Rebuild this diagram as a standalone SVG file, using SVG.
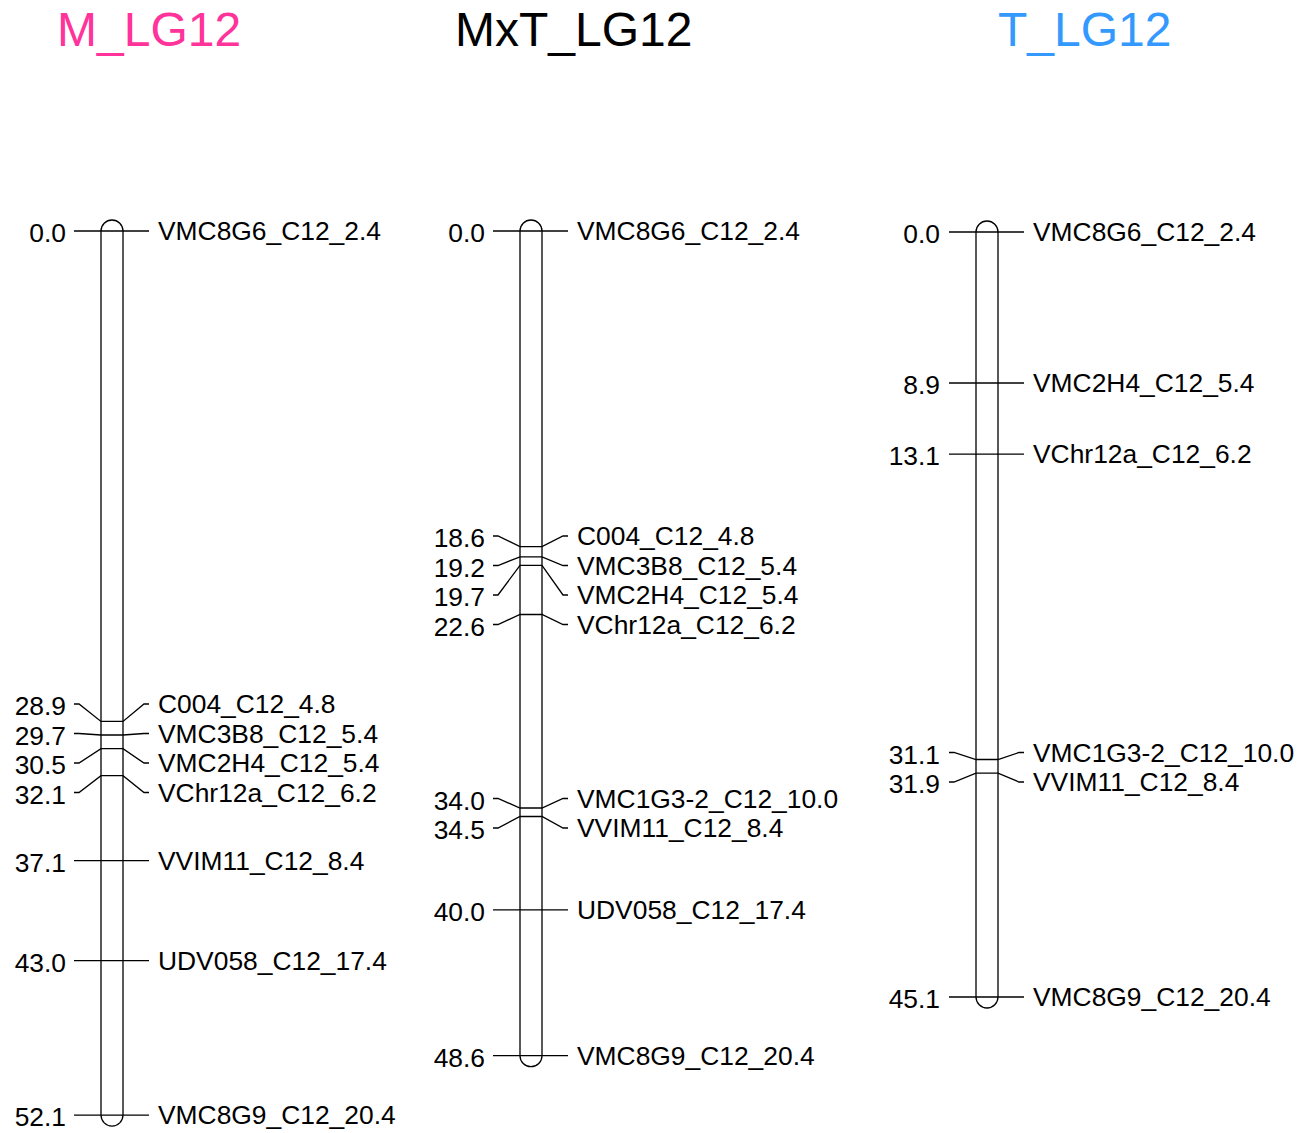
<svg xmlns="http://www.w3.org/2000/svg" width="1301" height="1133" viewBox="0 0 1301 1133">
<style>
.bg{fill:#fff}
.bar{fill:#fff;stroke:#000;stroke-width:1.3}
.mk{fill:none;stroke:#000;stroke-width:1.3;stroke-linejoin:miter}
.t{font-family:"Liberation Sans",Arial,sans-serif;font-size:48px}
.n{font-family:"Liberation Sans",Arial,sans-serif;font-size:26.4px;fill:#000;text-anchor:end}
.l{font-family:"Liberation Sans",Arial,sans-serif;font-size:26.4px;fill:#000}
</style>
<rect class="bg" x="0" y="0" width="1301" height="1133"/>
<g id="titles">
<text class="t" x="57" y="46" fill="#FF3399">M_LG12</text>
<text class="t" x="455" y="46" fill="#000">MxT_LG12</text>
<text class="t" x="998" y="46" fill="#3399FF">T_LG12</text>
</g>
<g id="M_LG12">
<rect class="bar" x="101" y="220" width="22" height="906.1" rx="11" ry="11"/>
</g>
<g id="MxT_LG12">
<rect class="bar" x="520" y="220" width="22" height="846.7" rx="11" ry="11"/>
</g>
<g id="T_LG12">
<rect class="bar" x="976" y="221" width="22" height="787" rx="11" ry="11"/>
</g>
<g id="connectors">
<polyline class="mk" points="74,231 149,231"/>
<polyline class="mk" points="74,704 79,704 101,721.4 123,721.4 144,704 149,704"/>
<polyline class="mk" points="74,733.5 79,733.5 101,735 123,735 144,733.5 149,733.5"/>
<polyline class="mk" points="74,763 79,763 101,748.6 123,748.6 144,763 149,763"/>
<polyline class="mk" points="74,792.5 79,792.5 101,775.7 123,775.7 144,792.5 149,792.5"/>
<polyline class="mk" points="74,860.6 149,860.6"/>
<polyline class="mk" points="74,960.7 149,960.7"/>
<polyline class="mk" points="74,1115.1 149,1115.1"/>
<polyline class="mk" points="493,231 568,231"/>
<polyline class="mk" points="493,536 498,536 520,546.6 542,546.6 563,536 568,536"/>
<polyline class="mk" points="493,565.5 498,565.5 520,556.8 542,556.8 563,565.5 568,565.5"/>
<polyline class="mk" points="493,595 498,595 520,565.3 542,565.3 563,595 568,595"/>
<polyline class="mk" points="493,624.5 498,624.5 520,614.5 542,614.5 563,624.5 568,624.5"/>
<polyline class="mk" points="493,798.5 498,798.5 520,808 542,808 563,798.5 568,798.5"/>
<polyline class="mk" points="493,828 498,828 520,816.5 542,816.5 563,828 568,828"/>
<polyline class="mk" points="493,909.8 568,909.8"/>
<polyline class="mk" points="493,1055.7 568,1055.7"/>
<polyline class="mk" points="949,232 1024,232"/>
<polyline class="mk" points="949,383 1024,383"/>
<polyline class="mk" points="949,454.2 1024,454.2"/>
<polyline class="mk" points="949,752.5 954,752.5 976,759.5 998,759.5 1019,752.5 1024,752.5"/>
<polyline class="mk" points="949,782 954,782 976,773.1 998,773.1 1019,782 1024,782"/>
<polyline class="mk" points="949,997 1024,997"/>
</g>
<g id="labels_M">
<text class="n" x="66" y="242">0.0</text>
<text class="n" x="66" y="715">28.9</text>
<text class="n" x="66" y="744.5">29.7</text>
<text class="n" x="66" y="774">30.5</text>
<text class="n" x="66" y="803.5">32.1</text>
<text class="n" x="66" y="871.6">37.1</text>
<text class="n" x="66" y="971.7">43.0</text>
<text class="n" x="66" y="1126.1">52.1</text>
<text class="l" x="158" y="240">VMC8G6_C12_2.4</text>
<text class="l" x="158" y="713">C004_C12_4.8</text>
<text class="l" x="158" y="742.5">VMC3B8_C12_5.4</text>
<text class="l" x="158" y="772">VMC2H4_C12_5.4</text>
<text class="l" x="158" y="801.5">VChr12a_C12_6.2</text>
<text class="l" x="158" y="869.6">VVIM11_C12_8.4</text>
<text class="l" x="158" y="969.7">UDV058_C12_17.4</text>
<text class="l" x="158" y="1124.1">VMC8G9_C12_20.4</text>
</g>
<g id="labels_MxT">
<text class="n" x="485" y="242">0.0</text>
<text class="n" x="485" y="547">18.6</text>
<text class="n" x="485" y="576.5">19.2</text>
<text class="n" x="485" y="606">19.7</text>
<text class="n" x="485" y="635.5">22.6</text>
<text class="n" x="485" y="809.5">34.0</text>
<text class="n" x="485" y="839">34.5</text>
<text class="n" x="485" y="920.8">40.0</text>
<text class="n" x="485" y="1066.7">48.6</text>
<text class="l" x="577" y="240">VMC8G6_C12_2.4</text>
<text class="l" x="577" y="545">C004_C12_4.8</text>
<text class="l" x="577" y="574.5">VMC3B8_C12_5.4</text>
<text class="l" x="577" y="604">VMC2H4_C12_5.4</text>
<text class="l" x="577" y="633.5">VChr12a_C12_6.2</text>
<text class="l" x="577" y="807.5">VMC1G3-2_C12_10.0</text>
<text class="l" x="577" y="837">VVIM11_C12_8.4</text>
<text class="l" x="577" y="918.8">UDV058_C12_17.4</text>
<text class="l" x="577" y="1064.7">VMC8G9_C12_20.4</text>
</g>
<g id="labels_T">
<text class="n" x="940" y="243">0.0</text>
<text class="n" x="940" y="394">8.9</text>
<text class="n" x="940" y="465.2">13.1</text>
<text class="n" x="940" y="763.5">31.1</text>
<text class="n" x="940" y="793">31.9</text>
<text class="n" x="940" y="1008">45.1</text>
<text class="l" x="1033" y="241">VMC8G6_C12_2.4</text>
<text class="l" x="1033" y="392">VMC2H4_C12_5.4</text>
<text class="l" x="1033" y="463.2">VChr12a_C12_6.2</text>
<text class="l" x="1033" y="761.5">VMC1G3-2_C12_10.0</text>
<text class="l" x="1033" y="791">VVIM11_C12_8.4</text>
<text class="l" x="1033" y="1006">VMC8G9_C12_20.4</text>
</g>
</svg>
